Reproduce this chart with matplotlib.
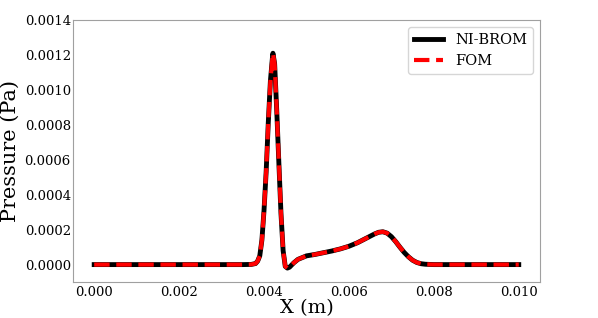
import numpy as np
import matplotlib
matplotlib.use("Agg")
import matplotlib.pyplot as plt

# pressure profile (x in m, p in Pa)
x_m = [0.0, 0.001, 0.002, 0.003, 0.0035, 0.0037, 0.0038, 0.00385, 0.0039,
       0.00395, 0.0040, 0.00405, 0.0041, 0.00415, 0.0042, 0.00421, 0.00425,
       0.0043, 0.00435, 0.0044, 0.00445, 0.0045, 0.00455, 0.0046, 0.0047,
       0.0048, 0.0050, 0.0052, 0.0054, 0.0056, 0.0058, 0.0060, 0.0062,
       0.0064, 0.0066, 0.0067, 0.0068, 0.0069, 0.0070, 0.0071, 0.0072,
       0.0073, 0.0074, 0.0075, 0.0076, 0.0077, 0.0078, 0.0080, 0.0085,
       0.0090, 0.0095, 0.0100]
p_fom = [0.0, 0.0, 0.0, 0.0, 0.0, 0.000001, 0.000006, 0.00002, 0.00005,
         0.00014, 0.00031, 0.00053, 0.00081, 0.00105, 0.00119, 0.00121, 0.00115,
         0.00088, 0.00058, 0.00029, 0.00008, -0.00001, -0.00002, -0.000015, 0.00001,
         0.00003, 0.00005, 0.000058, 0.000068, 0.000078, 0.00009, 0.000105, 0.000125,
         0.00015, 0.000175, 0.000185, 0.000188, 0.00018, 0.00016, 0.000132, 0.0001,
         0.00007, 0.000045, 0.000025, 0.000012, 0.000005, 0.000002, 0.0, 0.0,
         0.0, 0.0, 0.0]
p_rom = list(p_fom)  # ROM overlaps the FOM curve

plt.rcParams["font.family"] = "DejaVu Serif"

fig = plt.figure(figsize=(5.98, 3.18), dpi=100)
ax = fig.add_axes([0.122, 0.113, 0.781, 0.824])

ax.plot(x_m, p_rom, color="black", lw=3.5, label="NI-BROM")
ax.plot(x_m, p_fom, color="red", lw=3, linestyle="--", label="FOM")

ax.set_xlim(-0.0005, 0.0105)
ax.set_ylim(-0.0001, 0.0014)
ax.set_xticks(np.arange(0, 0.0101, 0.002))
ax.set_yticks(np.arange(0, 0.00141, 0.0002))
ax.xaxis.set_major_formatter(matplotlib.ticker.FormatStrFormatter("%.3f"))
ax.yaxis.set_major_formatter(matplotlib.ticker.FormatStrFormatter("%.4f"))
ax.tick_params(labelsize=9.5, length=0)
ax.tick_params(axis="x", pad=3)
ax.tick_params(axis="y", pad=1.5)
for s in ax.spines.values():
    s.set_color("#a0a0a0")

ax.set_xlabel("X (m)", fontsize=14, labelpad=0)
ax.set_ylabel("Pressure (Pa)", fontsize=15, labelpad=0)
ax.yaxis.set_label_coords(-0.113, 0.5)
ax.legend(loc="upper right", fontsize=10.5)

fig.savefig("out.png", dpi=100)
